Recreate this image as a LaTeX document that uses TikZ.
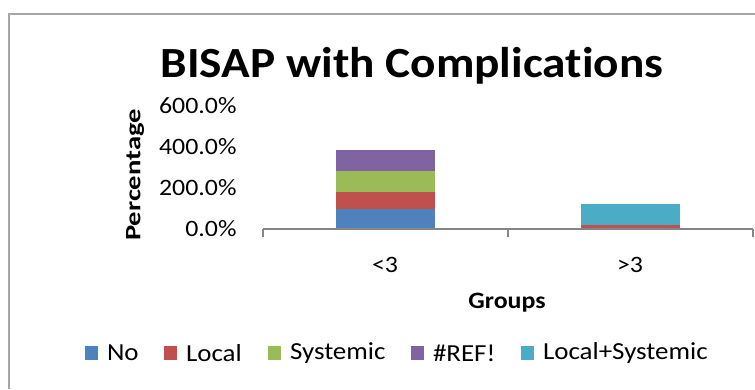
\documentclass[tikz,border=0pt]{standalone}
\usepackage{fontspec}
\setmainfont{Carlito}[FakeStretch=1.1, Ligatures=NoCommon]
\newfontfamily\rotfont{Carlito}[FakeStretch=1.3, Ligatures=NoCommon]
\definecolor{seriesNo}{HTML}{4F81BD}
\definecolor{seriesLocal}{HTML}{C0504D}
\definecolor{seriesSys}{HTML}{9BBB59}
\definecolor{seriesRef}{HTML}{8064A2}
\definecolor{seriesBoth}{HTML}{4BACC6}
\definecolor{axisgray}{HTML}{868686}
\definecolor{framegray}{HTML}{A6A6A6}
\begin{document}
\begin{tikzpicture}[x=1pt, y=-1pt,
                    line width=1pt,
                    ]
    \tikzstyle{label}=[inner sep=0pt, font=\fontsize{23.5}{26}\selectfont]
    \tikzstyle{ticklabel}=[label, anchor=east]
    \tikzstyle{axistitle}=[label, font=\fontsize{23.5}{26}\selectfont\bfseries]
    \tikzstyle{legendbox}=[minimum size=13.5pt, inner sep=0pt, anchor=west]
    \tikzstyle{legendtext}=[label, anchor=west, font=\fontsize{24.5}{26}\selectfont]
    \tikzstyle{axisline}=[draw=axisgray, line width=1.2pt]

    \useasboundingbox (0,0) rectangle (755,389);
    \fill[white] (0,0) rectangle (755,389);
    % chart frame
    \draw[framegray, line width=1.5pt] (9,389) -- (9,14) -- (755,14);

    \node[inner sep=0pt, anchor=base, font=\fontsize{43}{48}\selectfont\bfseries] (title) at (412,77) {BISAP with Complications};

    % value axis labels, 20.65 px per 100%
    \foreach \v/\t in {0/0.0\%, 2/200.0\%, 4/400.0\%, 6/600.0\%}
        \node[ticklabel] (tick\v) at (237,229-41.3*\v/2) {\t};
    \node[axistitle, rotate=90, font=\fontsize{22}{24}\rotfont\bfseries] (ytitle) at (135,175) {Percentage};

    % stacked bars
    \fill[seriesNo]    (336,229) rectangle (435,229-0.2065*95);
    \fill[seriesLocal] (336,229-0.2065*95) rectangle (435,229-0.2065*180);
    \fill[seriesSys]   (336,229-0.2065*180) rectangle (435,229-0.2065*280);
    \fill[seriesRef]   (336,229-0.2065*280) rectangle (435,229-0.2065*381);
    \fill[seriesLocal] (581,229) rectangle (680,229-0.2065*18);
    \fill[seriesBoth]  (581,229-0.2065*18) rectangle (680,229-0.2065*121);

    % category axis
    \coordinate (axisL) at (263,229);
    \coordinate (axisR) at (753,229);
    \draw[axisline] (axisL) -- (axisR);
    \foreach \x in {263,508,753}
        \draw[axisline] (\x,229) -- (\x,237);
    \node[label] (catA) at (385,265) {<3};
    \node[label] (catB) at (630,265) {>3};
    \node[axistitle] (xtitle) at (507,303) {Groups};

    % legend
    \node[legendbox, fill=seriesNo]    (keyNo)    at (84,353) {};
    \node[legendtext] (txtNo) at ([xshift=8pt]keyNo.east) {No};
    \node[legendbox, fill=seriesLocal] (keyLocal) at (163,353) {};
    \node[legendtext] (txtLocal) at ([xshift=8pt]keyLocal.east) {Local};
    \node[legendbox, fill=seriesSys]   (keySys)   at (267,353) {};
    \node[legendtext] (txtSys) at ([xshift=8pt]keySys.east) {Systemic};
    \node[legendbox, fill=seriesRef]   (keyRef)   at (410,353) {};
    \node[legendtext] (txtRef) at ([xshift=8pt]keyRef.east) {\#REF!};
    \node[legendbox, fill=seriesBoth]  (keyBoth)  at (520,353) {};
    \node[legendtext] (txtBoth) at ([xshift=8pt]keyBoth.east) {Local+Systemic};
\end{tikzpicture}
\end{document}
